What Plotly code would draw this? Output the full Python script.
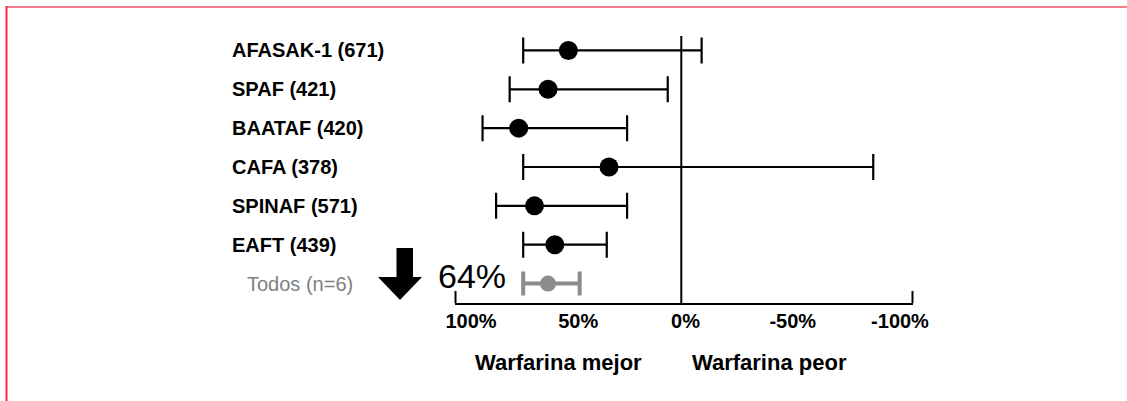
import plotly.graph_objects as go

# ---------------- data ----------------
studies = ["AFASAK-1 (671)", "SPAF (421)", "BAATAF (420)", "CAFA (378)",
           "SPINAF (571)", "EAFT (439)", "Todos (n=6)"]
estimate = [50, 59, 72, 32, 65, 56, 59]      # % risk reduction (point)
ci_low_side = [70, 76, 88, 70, 82, 70, 70]   # favourable end of CI
ci_high_side = [-9, 6, 24, -85, 24, 33, 45]  # unfavourable end of CI
tick_vals = [100, 50, 0, -50, -100]
tick_text = ["100%", "50%", "0%", "-50%", "-100%"]
pooled_label = "64%"
title_left = "Warfarina mejor"
title_right = "Warfarina peor"

# ---------------- layout geometry (pixels) ----------------
W, H = 1127, 401
L, R, T, B = 455, 913, 31, 303  # plot area in pixels


def pxx(px):
    return (px - L) / (R - L)


def pxy(py):
    return (B - py) / (B - T)


FONT = "Liberation Sans, Arial, sans-serif"

fig = go.Figure()

n_ind = len(studies) - 1
# individual studies (black)
fig.add_trace(go.Scatter(
    x=estimate[:n_ind], y=studies[:n_ind], mode="markers",
    marker=dict(color="black", size=19),
    error_x=dict(type="data", symmetric=False,
                 array=[lo - e for lo, e in zip(ci_low_side[:n_ind], estimate[:n_ind])],
                 arrayminus=[e - hi for hi, e in zip(ci_high_side[:n_ind], estimate[:n_ind])],
                 color="black", thickness=2.2, width=13),
    hoverinfo="skip", showlegend=False, cliponaxis=False))

# pooled (gray)
fig.add_trace(go.Scatter(
    x=estimate[n_ind:], y=studies[n_ind:], mode="markers",
    marker=dict(color="#8c8c8c", size=16),
    error_x=dict(type="data", symmetric=False,
                 array=[ci_low_side[n_ind] - estimate[n_ind]],
                 arrayminus=[estimate[n_ind] - ci_high_side[n_ind]],
                 color="#8c8c8c", thickness=4, width=12),
    hoverinfo="skip", showlegend=False, cliponaxis=False))

# invisible trace to register tick-label axis
fig.add_trace(go.Scatter(x=[0], y=[studies[0]], xaxis="x2", mode="markers",
                         marker=dict(opacity=0), hoverinfo="skip", showlegend=False))

# label axis range so that label centres match the reference
lab_first_px, lab_last_px = 471, 900
scale2 = (lab_last_px - lab_first_px) / (tick_vals[0] - tick_vals[-1])
x2_range = [tick_vals[0] + (lab_first_px - L) / scale2, tick_vals[-1] - (R - lab_last_px) / scale2]

xrange = [100.2, -102.6]

annotations = []
for i, s in enumerate(studies):
    last = i == len(studies) - 1
    annotations.append(dict(
        x=pxx(245 if last else 230), y=s, xref="paper", yref="y",
        text=s if last else "<b>%s</b>" % s, showarrow=False,
        xanchor="left", yanchor="middle",
        font=dict(family=FONT, size=20, color="#808080" if last else "black")))

annotations += [
    dict(x=pxx(472), y=pxy(276), xref="paper", yref="paper", text=pooled_label,
         showarrow=False, xanchor="center", yanchor="middle",
         font=dict(family=FONT, size=34, color="black")),
    dict(x=pxx(558), y=pxy(362), xref="paper", yref="paper", text="<b>%s</b>" % title_left,
         showarrow=False, xanchor="center", yanchor="middle",
         font=dict(family=FONT, size=22, color="black")),
    dict(x=pxx(769), y=pxy(362), xref="paper", yref="paper", text="<b>%s</b>" % title_right,
         showarrow=False, xanchor="center", yanchor="middle",
         font=dict(family=FONT, size=22, color="black")),
]

arrow_pts = [(396.5, 248), (413, 248), (413, 277), (422, 277), (400, 300),
             (378, 277), (396.5, 277)]
arrow_path = "M " + " L ".join("%.5f,%.5f" % (pxx(a), pxy(b)) for a, b in arrow_pts) + " Z"

shapes = [
    # vertical no-effect line
    dict(type="line", xref="x", yref="paper", x0=0, x1=0, y0=0, y1=pxy(36),
         line=dict(color="black", width=2)),
    # end ticks of the axis line
    dict(type="line", xref="paper", yref="paper", x0=pxx(455.5), x1=pxx(455.5),
         y0=0, y1=pxy(291), line=dict(color="black", width=2)),
    dict(type="line", xref="paper", yref="paper", x0=pxx(912.5), x1=pxx(912.5),
         y0=0, y1=pxy(291), line=dict(color="black", width=2)),
    # big down arrow
    dict(type="path", xref="paper", yref="paper", path=arrow_path,
         fillcolor="black", line=dict(color="black", width=0)),
    # frame lines
    dict(type="line", xref="paper", yref="paper", x0=pxx(6), x1=pxx(1127),
         y0=pxy(7), y1=pxy(7), line=dict(color="#f4808f", width=2)),
    dict(type="line", xref="paper", yref="paper", x0=pxx(6.5), x1=pxx(6.5),
         y0=pxy(6), y1=pxy(402), line=dict(color="#ff2048", width=2)),
]

fig.update_layout(
    width=W, height=H, autosize=False,
    margin=dict(l=L, r=W - R, t=T, b=H - B, pad=0),
    paper_bgcolor="white", plot_bgcolor="white",
    showlegend=False,
    xaxis=dict(range=xrange, showgrid=False, zeroline=False,
               showline=True, linecolor="black", linewidth=2,
               ticks="", showticklabels=False, fixedrange=True),
    xaxis2=dict(range=x2_range, overlaying="x", anchor="y", side="bottom",
                showgrid=False, zeroline=False, showline=False, ticks="",
                tickmode="array", tickvals=tick_vals,
                ticktext=["<b>%s</b>" % t for t in tick_text],
                tickfont=dict(family=FONT, size=20, color="black"),
                ticklabelstandoff=4, fixedrange=True),
    yaxis=dict(type="category", categoryorder="array", categoryarray=studies,
               range=[len(studies) - 0.5, -0.5], showgrid=False, zeroline=False,
               showline=False, showticklabels=False, ticks="", fixedrange=True),
    annotations=annotations,
    shapes=shapes,
)

fig.write_html(
    "out.html",
    config={"displayModeBar": False, "staticPlot": True},
    post_script="document.body.style.margin='0';document.body.style.padding='0';"
                "document.body.style.overflow='hidden';",
)
